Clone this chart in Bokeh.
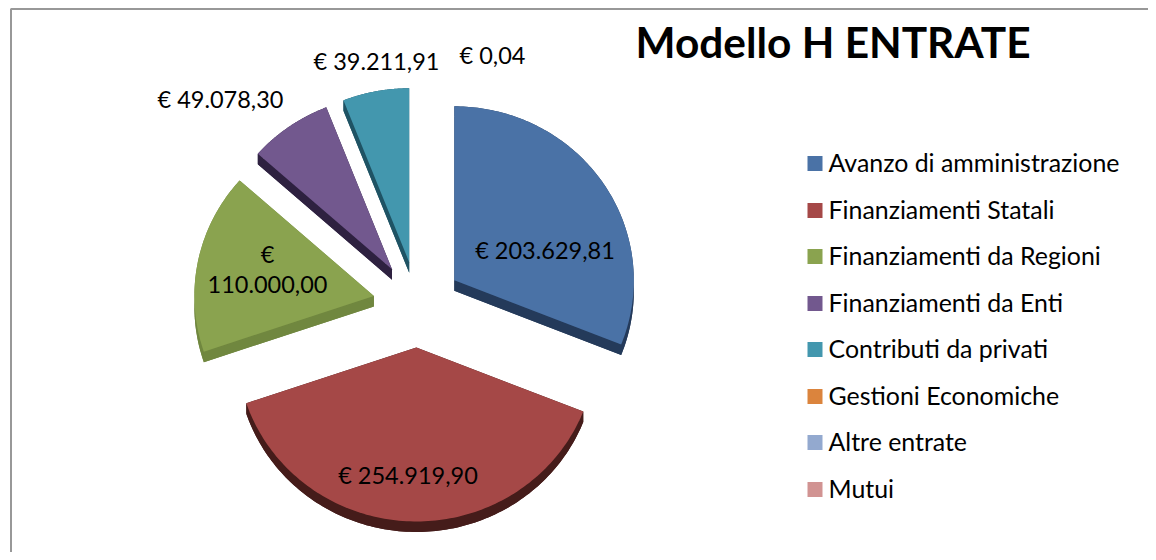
import numpy as np
from bokeh.core.properties import value
from bokeh.embed import file_html
from bokeh.models import Range1d
from bokeh.plotting import figure
from bokeh.resources import INLINE

categories = ["Avanzo di amministrazione", "Finanziamenti Statali", "Finanziamenti da Regioni",
              "Finanziamenti da Enti", "Contributi da privati", "Gestioni Economiche",
              "Altre entrate", "Mutui"]
amounts = [203629.81, 254919.90, 110000.00, 49078.30, 39211.91, 0.04, 0.0, 0.0]
amount_labels = ["€ 203.629,81", "€ 254.919,90", "€\n110.000,00", "€ 49.078,30", "€ 39.211,91", "€ 0,04"]
title = "Modello H ENTRATE"

top_colors = ["#4A72A6", "#A54847", "#8AA34F", "#72588E", "#4397AE", "#DB843D", "#93A9CF", "#D19392"]
side_colors = ["#243A5A", "#451C1A", "#70873F", "#2E2140", "#1F5364", "#8A5020", "#5F6F88", "#885F5E"]
label_x = [544.5, 407.5, 267, 220, 376, 492]
label_y = [249.5, 474.5, 268.5, 98.5, 60.5, 54.5]
legend_y = [161, 208, 254, 301, 347, 394, 440, 487]
legend_box_y = [163, 210, 256, 303, 349, 396, 442, 489]

CX, CY = 417.0, 304.0      # pie centre, px
RX, RY = 179.5, 174.0      # tilted ellipse radii
EXPLODE_X, EXPLODE_Y = 44.5, 43.0
DEPTH = 10.5

p = figure(width=1148, height=552, output_backend="svg", toolbar_location=None,
           x_range=Range1d(0, 1148), y_range=Range1d(552, 0), min_border=0,
           outline_line_color=None, background_fill_color="white", border_fill_color="white")
p.axis.visible = False
p.grid.visible = False

# chart frame (top and left edges are the ones inside the picture)
p.line([10.5, 10.5, 1148], [552, 8.5, 8.5], line_color="#989898", line_width=2)

total = sum(amounts)
tops_x, tops_y, fills, sides_x, sides_y, sides = [], [], [], [], [], []
start = 0.0
for amount, top, side in zip(amounts, top_colors, side_colors):
    sweep = amount / total * 2 * np.pi
    if sweep < 1e-4:
        start += sweep
        continue
    mid = start + sweep / 2
    ax = CX + EXPLODE_X * np.sin(mid)
    ay = CY - EXPLODE_Y * np.cos(mid)
    t = np.linspace(start, start + sweep, 120)
    arc_x = ax + RX * np.sin(t)
    arc_y = ay - RY * np.cos(t)
    xs = np.concatenate([[ax], arc_x])
    ys = np.concatenate([[ay], arc_y])
    tops_x.append(xs); tops_y.append(ys); fills.append(top)
    # extruded body: lowered face, rim strip along the arc, and the two radial walls
    parts = [
        (xs, ys + DEPTH),
        (np.concatenate([arc_x, arc_x[::-1]]), np.concatenate([arc_y, arc_y[::-1] + DEPTH])),
        (np.array([ax, arc_x[0], arc_x[0], ax]), np.array([ay, arc_y[0], arc_y[0] + DEPTH, ay + DEPTH])),
        (np.array([ax, arc_x[-1], arc_x[-1], ax]), np.array([ay, arc_y[-1], arc_y[-1] + DEPTH, ay + DEPTH])),
    ]
    for px_, py_ in parts:
        sides_x.append(px_); sides_y.append(py_); sides.append(side)
    start += sweep

p.patches(xs=sides_x, ys=sides_y, fill_color=sides, line_color=None)
p.patches(xs=tops_x, ys=tops_y, fill_color=fills, line_color=None)

font = value("Lato")
p.text(x=label_x, y=label_y, text=amount_labels, text_font=font, text_font_size="23.5px",
       text_color="#000000", text_align="center", text_baseline="middle", text_line_height=1.05)

p.scatter(x=[814.5] * len(categories), y=legend_box_y, marker="square", size=15,
          fill_color=top_colors, line_color=None)
p.text(x=[828] * len(categories), y=legend_y, text=categories, text_font=font,
       text_font_size="24.9px", text_color="#000000", text_align="left", text_baseline="middle")

p.text(x=[635], y=[41], text=[title], text_font=font, text_font_style="bold",
       text_font_size="42.4px", text_color="#000000", text_align="left", text_baseline="middle")

open("out.html", "w").write(file_html(p, INLINE))
